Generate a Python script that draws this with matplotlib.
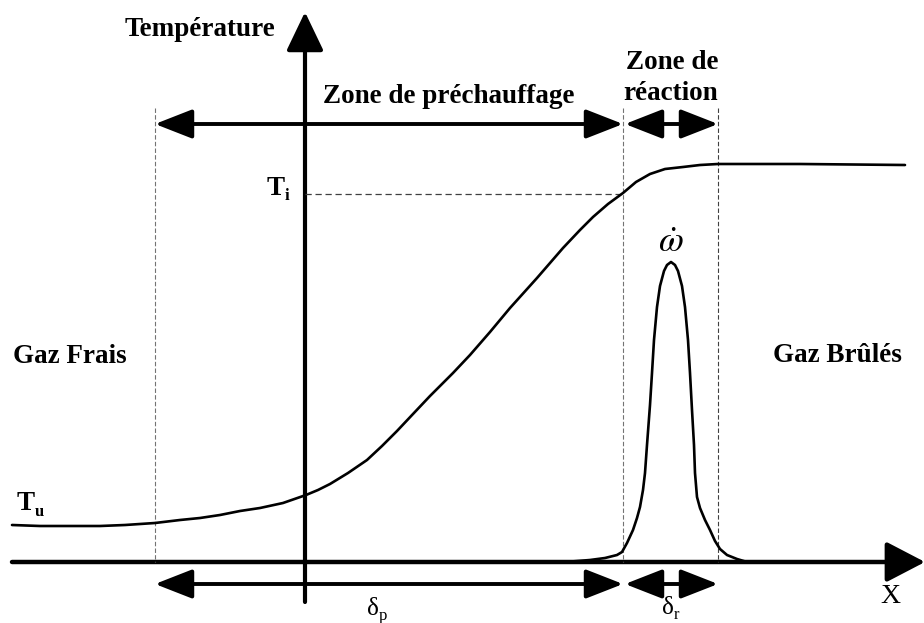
import matplotlib
matplotlib.use('Agg')
import matplotlib.pyplot as plt
from matplotlib.patches import FancyArrowPatch

'''
Schematic of a premixed flame structure: temperature profile across the
preheat zone and the reaction zone, with the reaction rate peak.
Coordinates are in picture pixels (y grows downwards).
'''

plt.rcParams['mathtext.fontset'] = 'stix'
SERIF = 'Liberation Serif'

# temperature profile
temp_x = [12, 40, 70, 100, 125, 140, 155, 180, 200, 220, 240, 260, 283, 306,
          318, 330, 348, 367, 382, 397, 413, 430, 453, 470, 490, 510, 537,
          563, 580, 593, 608, 623, 636, 650, 665, 683, 700, 718, 800, 905]
temp_y = [525, 526, 526, 526, 525, 524, 523, 520, 518, 515, 511, 508, 503, 495,
          490, 484, 473, 460, 446, 431, 414, 396, 373, 355, 332, 308, 278,
          248, 230, 217, 204, 193, 182, 174, 169, 167, 165, 164, 164, 165]

# reaction rate peak
rate_x = [565, 590, 605, 617, 622, 627, 633, 637, 640, 643, 645, 647, 650, 652,
          654, 657, 660, 664, 667, 671, 675, 678, 682, 685, 688, 690, 692,
          694, 695, 697, 700, 705, 710, 715, 720, 727, 737, 747]
rate_y = [562, 560, 558, 555, 552, 543, 530, 518, 507, 490, 473, 445, 405, 373,
          340, 307, 286, 271, 265, 262, 265, 271, 286, 307, 340, 373, 410,
          445, 473, 497, 508, 520, 530, 541, 549, 555, 559, 562]

# axes and zone limits
origin_x, origin_y = 305, 562
x_axis = (12, 925)
y_axis = (602, 12)
zone_edges = [155, 623, 718]
t_ignition = 194
arrow_rows = [124, 584]


def double_arrow(ax, x0, x1, y):
    a = FancyArrowPatch((x0, y), (x1, y),
                        arrowstyle='<|-|>,head_length=23,head_width=9',
                        mutation_scale=1, lw=2.8, color='k',
                        shrinkA=0, shrinkB=0)
    ax.add_patch(a)


fig = plt.figure(figsize=(9.24, 6.23), dpi=100)
ax = fig.add_axes([0, 0, 1, 1])
ax.set_xlim(0, 924)
ax.set_ylim(623, 0)
ax.axis('off')

# dashed guides
for i, xe in enumerate(zone_edges):
    col = '0.25' if i == 2 else '0.45'
    ax.plot([xe, xe], [108, origin_y], ls=(0, (4, 2)), lw=0.8, color=col)
ax.plot([origin_x, zone_edges[1]], [t_ignition, t_ignition],
        ls=(0, (5, 3)), lw=0.9, color='0.25')

# axes
ax.add_patch(FancyArrowPatch((x_axis[0], origin_y), (x_axis[1], origin_y),
                             arrowstyle='-|>,head_length=24,head_width=12.5',
                             mutation_scale=1, lw=3.2, color='k',
                             shrinkA=0, shrinkB=0))
ax.add_patch(FancyArrowPatch((origin_x, y_axis[0]), (origin_x, y_axis[1]),
                             arrowstyle='-|>,head_length=24,head_width=11.5',
                             mutation_scale=1, lw=3.0, color='k',
                             shrinkA=0, shrinkB=0))

# zone arrows
for yr in arrow_rows:
    double_arrow(ax, zone_edges[0], zone_edges[1], yr)
    double_arrow(ax, zone_edges[1] + 2, zone_edges[2], yr)

# curves
ax.plot(temp_x, temp_y, color='k', lw=1.9, solid_capstyle='round',
        solid_joinstyle='round')
ax.plot(rate_x, rate_y, color='k', lw=1.9, solid_capstyle='round',
        solid_joinstyle='round')

# labels
bold = dict(family=SERIF, fontweight='bold', fontsize=19.5, color='k')
ax.text(200, 36, 'Température', ha='center', va='baseline', **bold)
ax.text(449, 103, 'Zone de préchauffage', ha='center', va='baseline', **bold)
ax.text(672, 69, 'Zone de', ha='center', va='baseline', **bold)
ax.text(671, 100, 'réaction', ha='center', va='baseline', **bold)
ax.text(13, 363, 'Gaz Frais', ha='left', va='baseline', **bold)
ax.text(773, 362, 'Gaz Brûlés', ha='left', va='baseline', **bold)

ax.text(267, 195, 'T', ha='left', va='baseline', **bold)
ax.text(285, 200, 'i', ha='left', va='baseline', family=SERIF,
        fontweight='bold', fontsize=12)
ax.text(17, 510, 'T', ha='left', va='baseline', **bold)
ax.text(35, 516, 'u', ha='left', va='baseline', family=SERIF,
        fontweight='bold', fontsize=12)

reg = dict(family=SERIF, fontsize=18, color='k')
ax.text(367, 615, 'δ', ha='left', va='baseline', **reg)
ax.text(379, 620, 'p', ha='left', va='baseline', family=SERIF, fontsize=12)
ax.text(662, 614, 'δ', ha='left', va='baseline', **reg)
ax.text(674, 619, 'r', ha='left', va='baseline', family=SERIF, fontsize=12)
ax.text(890, 603, 'X', ha='center', va='baseline', family=SERIF, fontsize=20)

ax.text(671, 252, r'$\dot{\omega}$', ha='center', va='baseline', fontsize=26)

fig.savefig('out.png', dpi=100)
